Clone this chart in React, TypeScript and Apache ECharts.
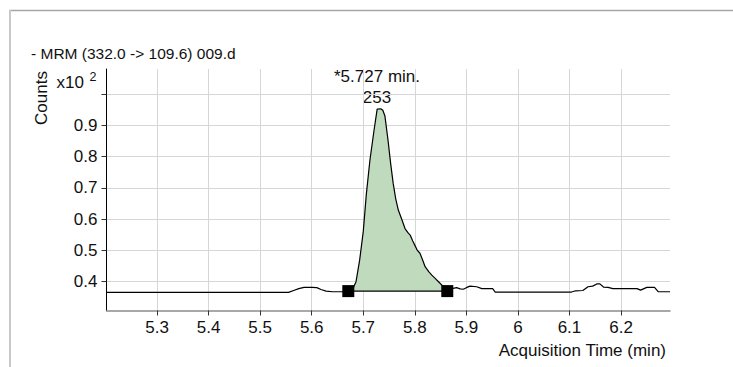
import React, { useEffect, useRef } from "react";
import * as echarts from "echarts";

// Acquisition time (min)
const timeMin = [
  5.202, 5.555, 5.565, 5.575, 5.585, 5.6, 5.61, 5.618, 5.628, 5.64, 5.66, 5.671,
  5.68, 5.686, 5.693, 5.7, 5.706, 5.713, 5.721, 5.727, 5.734, 5.738, 5.742, 5.748,
  5.753, 5.758, 5.763, 5.768, 5.775, 5.781, 5.787, 5.791, 5.796, 5.8, 5.805, 5.81,
  5.815, 5.82, 5.827, 5.833, 5.84, 5.846, 5.855, 5.863, 5.872, 5.881, 5.888, 5.894,
  5.9, 5.907, 5.92, 5.93, 5.951, 5.956, 6.104, 6.112, 6.126, 6.136, 6.145, 6.153,
  6.159, 6.166, 6.175, 6.184, 6.231, 6.238, 6.25, 6.265, 6.272, 6.295,
];
// Counts (x10^2)
const counts = [
  0.366, 0.366, 0.372, 0.378, 0.382, 0.382, 0.381, 0.375, 0.37, 0.368, 0.368, 0.37,
  0.378, 0.4, 0.469, 0.56, 0.68, 0.789, 0.885, 0.952, 0.953, 0.948, 0.93, 0.853,
  0.78, 0.715, 0.665, 0.629, 0.598, 0.57, 0.556, 0.549, 0.53, 0.517, 0.5, 0.491,
  0.47, 0.448, 0.432, 0.421, 0.41, 0.4, 0.385, 0.372, 0.378, 0.381, 0.377, 0.376,
  0.381, 0.386, 0.384, 0.378, 0.378, 0.367, 0.367, 0.371, 0.372, 0.384, 0.386, 0.393,
  0.393, 0.383, 0.382, 0.378, 0.378, 0.373, 0.382, 0.382, 0.368, 0.368,
];
// Integration baseline
const peakStart = 5.671;
const peakEnd = 5.863;
const baselineLevel = 0.37;
// Texts
const titleText = "- MRM (332.0 -> 109.6) 009.d";
const yAxisTitle = "Counts";
const yScaleText = "x10";
const yScaleExp = "2";
const xAxisTitle = "Acquisition Time (min)";
const peakRtText = "*5.727 min.";
const peakAreaText = "253";

const FONT = "'Liberation Sans', Arial, sans-serif";

export default function App() {
  const ref = useRef<HTMLDivElement>(null);
  useEffect(() => {
    if (!ref.current) return;
    const chart = echarts.init(ref.current, undefined, { renderer: "svg" });
    const trace = timeMin.map((t, i) => [t, counts[i]]);
    const peak = trace.filter((p) => p[0] >= peakStart && p[0] <= peakEnd);
    const txt = (
      text: string,
      x: number,
      y: number,
      size: number,
      align: string,
      extra: Record<string, unknown> = {}
    ) => ({
      type: "text",
      x,
      y,
      ...extra,
      style: {
        text,
        font: `${size}px ${FONT}`,
        fill: "#111",
        textAlign: align,
        textVerticalAlign: "middle",
      },
    });
    chart.setOption({
      animation: false,
      backgroundColor: "#fff",
      textStyle: { fontFamily: FONT },
      grid: {
        left: 106.5,
        right: 63,
        top: 69,
        bottom: 56.5,
        containLabel: false,
        outerBoundsMode: "none",
      },
      xAxis: {
        type: "value",
        min: 5.202,
        max: 6.295,
        splitNumber: 11,
        axisLine: { show: true, lineStyle: { color: "#8c8c8c", width: 1.5 } },
        axisTick: { show: true, length: 5, lineStyle: { color: "#333" } },
        axisLabel: {
          color: "#111",
          fontSize: 17,
          fontFamily: FONT,
          margin: 8,
          showMinLabel: false,
          showMaxLabel: false,
          formatter: (v: number) =>
            v > 5.25 && v < 6.25 ? String(Number(v.toFixed(1))) : "",
        },
        splitLine: {
          show: true,
          showMinLine: false,
          showMaxLine: false,
          lineStyle: { color: "#d6d6d6", width: 1 },
        },
      },
      yAxis: {
        type: "value",
        min: 0.308,
        max: 1.08,
        splitNumber: 8,
        axisLine: { show: true, lineStyle: { color: "#000", width: 1 } },
        axisTick: { show: true, length: 5, lineStyle: { color: "#333" } },
        axisLabel: {
          color: "#111",
          fontSize: 17,
          fontFamily: FONT,
          margin: 9,
          showMinLabel: false,
          showMaxLabel: false,
          formatter: (v: number) => (v > 0.35 && v < 0.95 ? v.toFixed(1) : ""),
        },
        splitLine: {
          show: true,
          showMinLine: false,
          showMaxLine: false,
          lineStyle: { color: "#d6d6d6", width: 1 },
        },
      },
      series: [
        {
          type: "line",
          data: peak,
          showSymbol: false,
          symbol: "none",
          lineStyle: { width: 0, opacity: 0 },
          areaStyle: { color: "#bfdabd", opacity: 1, origin: baselineLevel },
          z: 1,
        },
        {
          type: "line",
          data: trace,
          showSymbol: false,
          symbol: "none",
          lineStyle: { color: "#000", width: 1.2 },
          z: 2,
        },
        {
          type: "line",
          data: [
            [peakStart, baselineLevel],
            [peakEnd, baselineLevel],
          ],
          symbol: "rect",
          symbolSize: 12,
          showSymbol: true,
          itemStyle: { color: "#000" },
          lineStyle: { color: "#000", width: 1.3 },
          z: 3,
        },
      ],
      graphic: [
        {
          type: "line",
          shape: { x1: 9, y1: 10.5, x2: 733, y2: 10.5 },
          style: { stroke: "#a6a6a6", lineWidth: 1.5 },
        },
        {
          type: "line",
          shape: { x1: 10, y1: 10, x2: 10, y2: 367 },
          style: { stroke: "#c8c8c8", lineWidth: 2 },
        },
        txt(titleText, 31, 53, 15.5, "left"),
        txt(yAxisTitle, 41.5, 98, 17, "center", { rotation: Math.PI / 2 }),
        txt(yScaleText, 56.5, 82, 17, "left"),
        txt(yScaleExp, 89.5, 76.5, 12.5, "left"),
        txt(peakRtText, 377, 76, 17, "center"),
        txt(peakAreaText, 377, 97, 17, "center"),
        txt(xAxisTitle, 666, 350, 17, "right"),
      ],
    });
    return () => chart.dispose();
  }, []);
  return (
    <div
      ref={ref}
      style={{ position: "fixed", left: 0, top: 0, width: 733, height: 367 }}
    />
  );
}
